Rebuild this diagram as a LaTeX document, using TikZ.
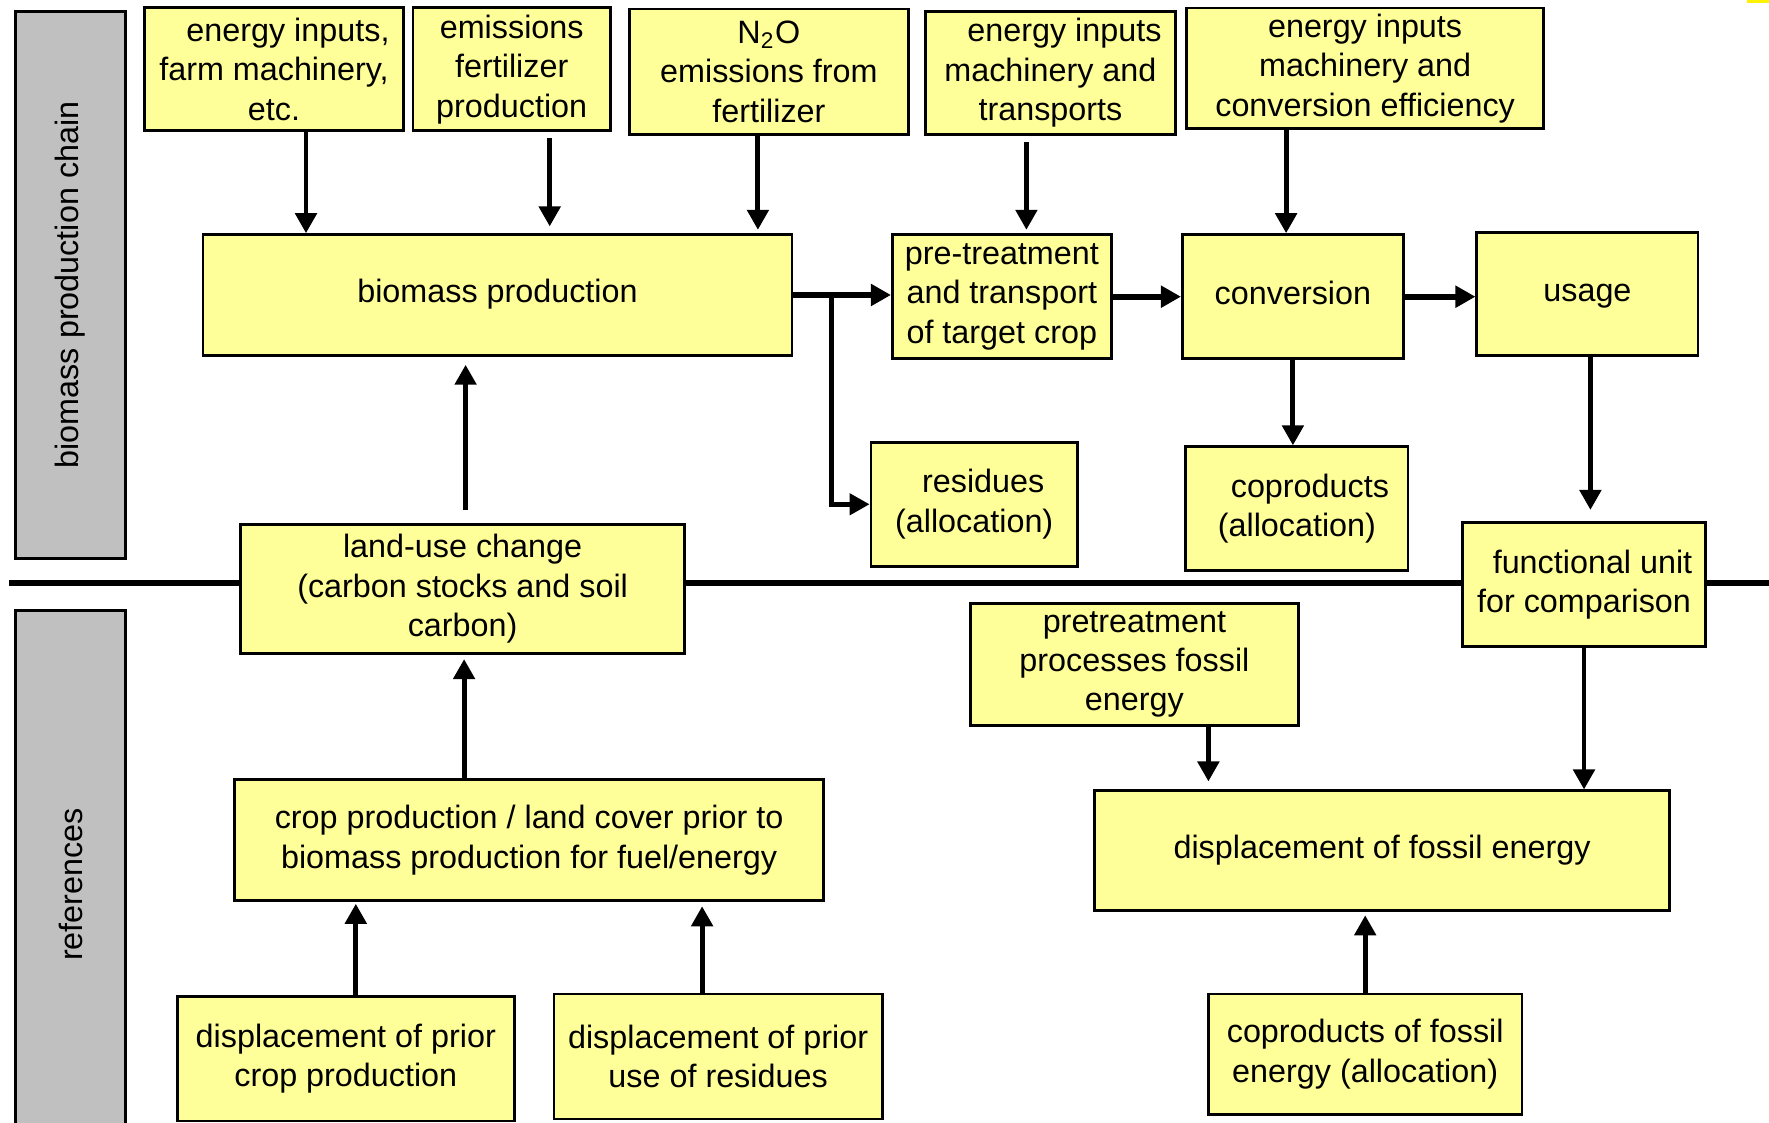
\documentclass[tikz,border=0pt]{standalone}
\usepackage{fontspec}
\setmainfont{Liberation Sans}
\usetikzlibrary{arrows.meta}
\definecolor{boxyellow}{HTML}{FFFF99}
\definecolor{bargray}{HTML}{C0C0C0}
\tikzset{
  box/.style={draw=black, line width=0.8pt, fill=boxyellow, align=center, inner sep=0pt,
    font=\fontsize{9.2pt}{11.2pt}\selectfont},
  bar/.style={draw=black, line width=0.8pt, fill=bargray, inner sep=0pt, rotate=90,
    minimum height=10.94mm, font=\fontsize{9.2pt}{11.2pt}\selectfont},
  arr/.style={-{Triangle[length=2mm,width=2.1mm]}, line width=1.4pt},
  harr/.style={arr, line width=1.7pt},
}
\begin{document}
\begin{tikzpicture}[x=0.1mm, y=-0.1mm]
			\useasboundingbox (0,0) rectangle (1769,1123);
			% separator and side bars
			\draw[line width=1.7pt] (9,583.3) -- (1769,583.3);
			\node[bar, minimum width=54.72mm] (chain) at (70.5,284.9) {biomass production chain};
			\node[bar, minimum width=54.82mm] (refs) at (70.5,884.5) {references};
			\fill[yellow] (1747,0) rectangle (1769,3.5);
			% inputs
			\node[box, minimum width=25.95mm, minimum height=12.3mm] (inpfarm) at (274,69.4) {\hspace*{2.8mm}energy inputs,\\farm machinery,\\etc.};
			\node[box, minimum width=19.75mm, minimum height=12.3mm] (inpfert) at (511.7,69.4) {emissions\\fertilizer\\production};
			\node[box, minimum width=27.87mm, minimum height=12.52mm] (nitro) at (768.9,71.6) {N\textsubscript{2}O\\emissions from\\fertilizer};
			\node[box, minimum width=25.05mm, minimum height=12.3mm] (inptrans) at (1050.4,72.8) {\hspace*{2.8mm}energy inputs\\machinery and\\transports};
			\node[box, minimum width=35.65mm, minimum height=12.07mm] (inpconv) at (1365.1,68.3) {energy inputs\\machinery and\\conversion efficiency};
			% production chain
			\node[box, minimum width=58.89mm, minimum height=12.07mm] (bio) at (497.5,295) {\strut biomass production};
			\node[box, minimum width=21.89mm, minimum height=12.41mm] (pre) at (1001.8,296.7) {pre-treatment\\and transport\\of target crop};
			\node[box, minimum width=22.11mm, minimum height=12.41mm] (conv) at (1292.9,296.7) {\strut conversion};
			\node[box, minimum width=22.11mm, minimum height=12.3mm] (use) at (1587.4,293.9) {\strut usage};
			\node[box, minimum width=20.65mm, minimum height=12.41mm] (res) at (974.2,504.3) {\hspace*{1.8mm}residues\\(allocation)};
			\node[box, minimum width=22.23mm, minimum height=12.41mm] (cop) at (1296.9,508.8) {\hspace*{2.6mm}coproducts\\(allocation)};
			\node[box, minimum width=24.37mm, minimum height=12.41mm] (fu) at (1584,584.4) {\hspace*{1.7mm}functional unit\\for comparison};
			% references
			\node[box, minimum width=44.45mm, minimum height=12.86mm] (luc) at (462.6,588.9) {land-use change\\(carbon stocks and soil\\carbon)};
			\node[box, minimum width=32.83mm, minimum height=12.18mm] (pfos) at (1134.4,664.5) {pretreatment\\processes fossil\\energy};
			\node[box, minimum width=57.54mm, minimum height=11.96mm] (dfos) at (1382,850.7) {\strut displacement of fossil energy};
			\node[box, minimum width=58.89mm, minimum height=12.07mm] (crop) at (529.1,840) {crop production / land cover prior to\\biomass production for fuel/energy};
			\node[box, minimum width=33.73mm, minimum height=12.48mm] (dcrop) at (345.8,1058.6) {displacement of prior\\crop production};
			\node[box, minimum width=32.83mm, minimum height=12.5mm] (dres) at (718.1,1056.5) {displacement of prior\\use of residues};
			\node[box, minimum width=31.37mm, minimum height=12.07mm] (cfos) at (1365.2,1054.3) {coproducts of fossil\\energy (allocation)};
			% arrows into the chain
			\draw[arr] ([xshift=3.2mm]inpfarm.south) -- ([xshift=3.2mm]inpfarm.south |- bio.north);
			\draw[arr, shorten <=0.56mm, shorten >=0.68mm] ([xshift=3.8mm]inpfert.south) -- ([xshift=3.8mm]inpfert.south |- bio.north);
			\draw[arr, shorten >=0.34mm] ([xshift=-1.1mm]nitro.south) -- ([xshift=-1.1mm]nitro.south |- bio.north);
			\draw[arr, shorten <=0.67mm, shorten >=0.34mm] ([xshift=-2.4mm]inptrans.south) -- ([xshift=-2.4mm]inptrans.south |- pre.north);
			\draw[arr] ([xshift=-7.9mm]inpconv.south) -- ([xshift=-7.9mm]inpconv.south |- conv.north);
			% chain
			\draw[harr] (bio.east) -- (bio.east -| pre.west);
			\draw[arr, line width=1.3pt] ([xshift=3.84mm]bio.east) |- (res.west);
			\draw[harr] (pre.east) -- (pre.east -| conv.west);
			\draw[harr] (conv.east) -- (conv.east -| use.west);
			\draw[arr] (conv.south) -- (conv.south |- cop.north);
			\draw[arr, shorten >=1.1mm] ([xshift=0.3mm]use.south) -- ([xshift=0.3mm]use.south |- fu.north);
			% references
			\draw[arr, shorten <=1.36mm, shorten >=0.8mm] ([xshift=0.3mm]luc.north) -- ([xshift=0.3mm]luc.north |- bio.south);
			\draw[arr, shorten >=0.45mm] ([xshift=-6.5mm]crop.north) -- ([xshift=-6.5mm]crop.north |- luc.south);
			\draw[arr, shorten >=0.2mm] ([xshift=1mm]dcrop.north) -- ([xshift=1mm]dcrop.north |- crop.south);
			\draw[arr, shorten >=0.45mm] ([xshift=-1.6mm]dres.north) -- ([xshift=-1.6mm]dres.north |- crop.south);
			\draw[arr, shorten >=0.8mm] ([xshift=7.4mm]pfos.south) -- ([xshift=7.4mm]pfos.south |- dfos.north);
			\draw[arr] (fu.south) -- (fu.south |- dfos.north);
			\draw[arr, shorten >=0.34mm] (cfos.north) -- (cfos.north |- dfos.south);
		\end{tikzpicture}
\end{document}
